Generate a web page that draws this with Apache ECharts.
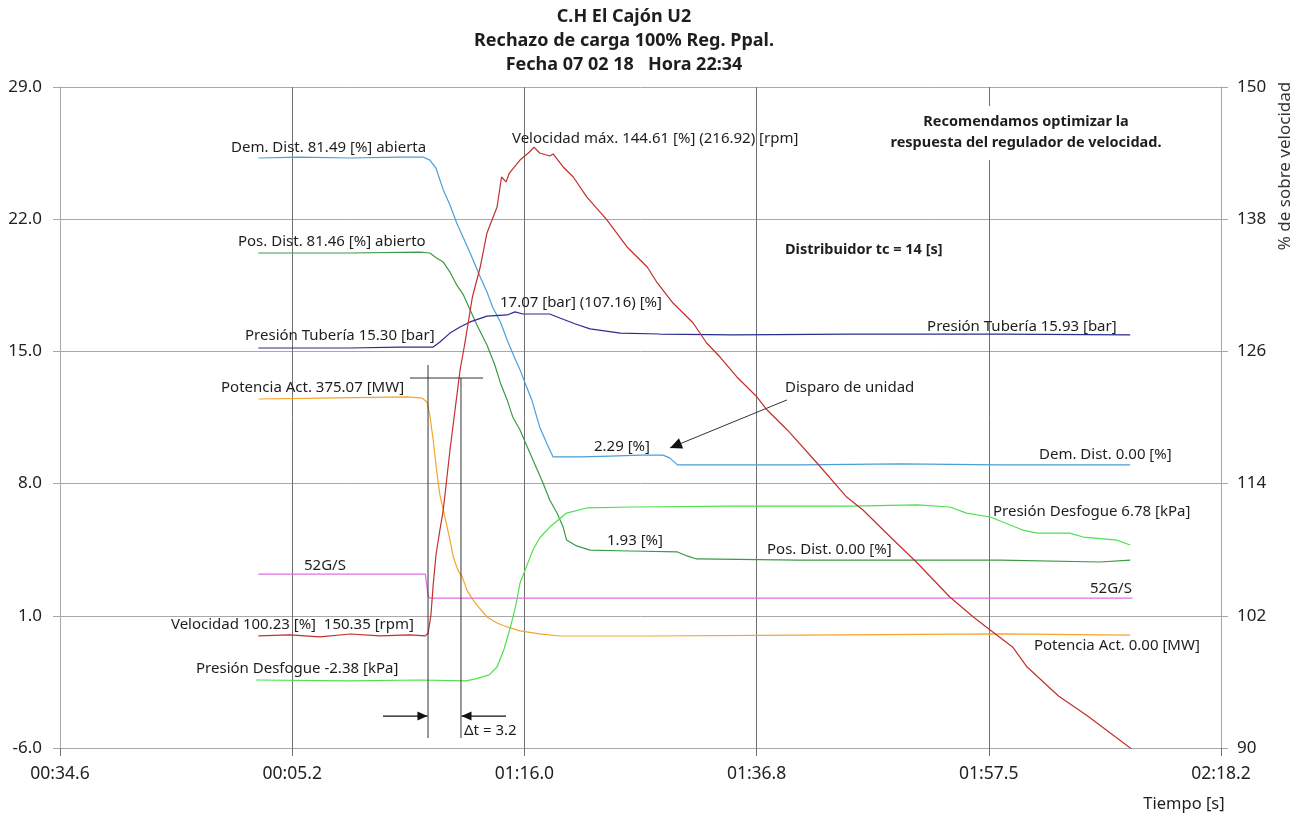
<!DOCTYPE html>
<html><head><meta charset="utf-8">
<script src="https://cdn.jsdelivr.net/npm/echarts@6/dist/echarts.min.js"></script>
<style>html,body{margin:0;padding:0;background:#fff}#c{width:1299px;height:816px}</style>
</head><body><div id="c"></div>
<script>
// ---------------- DATA ----------------
// time t in seconds counted from the first tick (00:34.6); one grid division = 20.72 s
const xTickLabels = ["00:34.6", "00:05.2", "01:16.0", "01:36.8", "01:57.5", "02:18.2"];
const titleLines = ["C.H El Cajón U2", "Rechazo de carga 100% Reg. Ppal.", "Fecha 07 02 18   Hora 22:34"];

const demDist = [[17.7,25.24],[21.4,25.29],[25.9,25.24],[30.3,25.29],[32.4,25.29],[33.0,25.13],[33.55,24.70],[34.2,23.55],[34.8,22.75],[35.4,21.80],[36.0,21.00],[36.6,20.21],[37.5,18.94],[38.1,18.15],[38.6,17.35],[39.3,16.56],[39.9,15.60],[40.5,14.76],[41.05,14.02],[41.5,13.33],[42.1,12.43],[42.8,11.00],[43.5,10.04],[44.0,9.41],[46.4,9.41],[49.1,9.46],[51.8,9.51],[53.8,9.51],[54.4,9.36],[55.1,8.99],[57.1,8.99],[66.0,8.99],[75.0,9.04],[83.9,8.99],[95.5,8.99]];

const posDist = [[17.7,20.21],[25.9,20.21],[32.1,20.26],[33.0,20.21],[33.6,19.95],[34.2,19.73],[34.8,19.20],[35.4,18.52],[36.0,17.99],[36.6,17.19],[37.2,16.40],[38.1,15.34],[38.8,14.28],[39.3,13.33],[39.9,12.43],[40.4,11.53],[41.05,10.84],[41.7,9.94],[42.4,8.99],[43.1,8.03],[43.7,7.13],[44.35,6.44],[44.9,5.70],[45.2,5.01],[46.1,4.70],[47.3,4.48],[50.9,4.43],[55.1,4.38],[55.95,4.17],[56.8,4.01],[66.0,3.95],[75.0,3.95],[83.9,3.95],[92.8,3.85],[95.5,3.95]];

const presTuberia = [[17.7,15.18],[25.9,15.18],[30.3,15.23],[33.3,15.23],[33.9,15.50],[34.8,15.97],[35.7,16.29],[36.6,16.56],[38.1,16.87],[39.9,16.93],[40.6,17.09],[41.3,16.98],[43.7,16.98],[44.6,16.77],[46.0,16.45],[47.3,16.19],[50.0,15.97],[53.5,15.92],[60.05,15.87],[70.5,15.92],[83.9,15.92],[95.5,15.87]];

const potencia = [[17.7,12.48],[23.2,12.53],[31.0,12.59],[32.3,12.53],[32.75,12.32],[33.0,11.63],[33.3,10.31],[33.6,8.72],[33.9,7.40],[34.2,6.60],[34.5,5.81],[34.8,5.01],[35.1,4.11],[35.5,3.42],[35.9,3.05],[36.3,2.37],[36.85,1.84],[37.5,1.36],[38.1,0.94],[39.0,0.62],[39.9,0.41],[41.05,0.20],[42.8,0.04],[44.6,-0.07],[52.65,-0.07],[66.0,-0.02],[83.9,0.04],[95.5,-0.02]];

const g52 = [[17.7,3.21],[32.6,3.21],[32.85,2.05],[33.0,1.94],[95.7,1.94]];

// right axis (% de sobre velocidad)
const velocidad = [[17.7,100.17],[20.5,100.26],[23.2,100.08],[25.9,100.35],[28.55,100.17],[31.2,100.26],[32.6,100.17],[32.85,100.44],[33.1,102.07],[33.3,104.80],[33.55,107.52],[33.9,109.79],[34.2,111.60],[34.4,113.42],[34.8,117.05],[35.25,120.68],[35.7,124.31],[36.1,126.58],[36.8,130.94],[37.5,133.66],[38.1,136.75],[39.0,139.11],[39.4,141.83],[39.8,141.38],[40.1,142.19],[41.05,143.37],[41.9,144.10],[42.3,144.55],[42.8,144.01],[43.7,143.74],[44.0,143.92],[44.9,142.74],[45.8,141.83],[47.0,140.02],[48.8,137.93],[50.6,135.48],[52.4,133.66],[53.3,132.21],[54.7,130.39],[56.5,128.58],[57.7,126.76],[58.9,125.49],[60.4,123.68],[62.2,121.86],[63.1,120.68],[64.9,118.87],[67.55,115.87],[70.2,112.78],[71.65,111.60],[74.1,109.15],[76.5,106.79],[79.4,103.71],[81.5,101.89],[83.0,100.71],[85.0,99.17],[86.3,97.35],[89.1,94.72],[91.7,92.90],[95.7,89.85]];

const presDesfogue = [[17.5,-2.40],[25.9,-2.45],[32.1,-2.40],[36.2,-2.45],[37.0,-2.35],[38.3,-2.13],[39.0,-1.71],[39.6,-0.81],[40.2,0.41],[40.7,1.62],[41.05,2.74],[41.5,3.42],[42.2,4.48],[42.8,5.12],[43.7,5.70],[45.2,6.44],[47.0,6.71],[51.1,6.76],[60.05,6.81],[70.5,6.81],[76.5,6.87],[79.4,6.76],[80.9,6.44],[83.0,6.23],[85.9,5.54],[87.2,5.38],[90.1,5.38],[91.3,5.17],[94.3,5.01],[95.5,4.75]];

// annotation texts anchored in data units (t, left-axis value)
const notes = [
  {text:"Dem. Dist. 81.49 [%] abierta", t:15.26, v:25.77},
  {text:"Pos. Dist. 81.46 [%] abierto", t:15.88, v:20.79},
  {text:"Presión Tubería 15.30 [bar]", t:16.51, v:15.82},
  {text:"Velocidad máx. 144.61 [%] (216.92) [rpm]", t:40.33, v:26.25},
  {text:"17.07 [bar] (107.16) [%]", t:39.26, v:17.56},
  {text:"Presión Tubería 15.93 [bar]", t:77.37, v:16.29},
  {text:"Potencia Act. 375.07 [MW]", t:14.37, v:13.06},
  {text:"52G/S", t:21.77, v:3.64},
  {text:"Velocidad 100.23 [%]  150.35 [rpm]", t:9.90, v:0.51},
  {text:"Presión Desfogue -2.38 [kPa]", t:12.14, v:-1.82},
  {text:"Disparo de unidad", t:64.69, v:13.06},
  {text:"2.29 [%]", t:47.65, v:9.94},
  {text:"1.93 [%]", t:48.81, v:4.96},
  {text:"Pos. Dist. 0.00 [%]", t:63.09, v:4.48},
  {text:"Dem. Dist. 0.00 [%]", t:87.36, v:9.51},
  {text:"Presión Desfogue 6.78 [kPa]", t:83.25, v:6.50},
  {text:"52G/S", t:91.91, v:2.42},
  {text:"Potencia Act. 0.00 [MW]", t:86.91, v:-0.60},
  {text:"Δt = 3.2", t:36.05, v:-5.10},
  {text:"Distribuidor tc = 14 [s]", t:64.69, v:20.37, bold:true}
];
const recomendacion = {lines:["Recomendamos optimizar la","respuesta del regulador de velocidad."], t:86.2, v1:27.15, v2:26.04};
const deltaT = {t1:32.84, t2:35.78, vTop1:14.28, vTop2:13.59, vBottom:-5.47, hLeft:31.23, hRight:37.75, arrowV:-4.31, arrowL:28.82, arrowR:39.80};
const disparoArrow = {from:[64.87,12.43], to:[54.43,9.89]};

// ---------------- CHART ----------------
const FONT = '"Noto Sans", "DejaVu Sans", sans-serif';
const TXT = '#1e1e1e';
const chart = echarts.init(document.getElementById('c'), null, {renderer:'canvas'});

function lineSeries(name, data, color, yIdx){
  return {name, type:'line', data, yAxisIndex:yIdx||0, showSymbol:false, symbol:'none',
    lineStyle:{color, width:1.2}, itemStyle:{color}, animation:false, z:3};
}

chart.setOption({
  animation:false,
  backgroundColor:'#fff',
  grid:{left:60, right:78, top:87, bottom:68},
  xAxis:{type:'value', min:0, max:103.6, interval:20.72,
    axisLine:{show:true, onZero:false, lineStyle:{color:'#a8a8a8'}},
    axisTick:{show:true, length:8, lineStyle:{color:'#707070'}},
    axisLabel:{margin:17, color:'#222', fontFamily:FONT, fontSize:17.5,
      formatter:v=>xTickLabels[Math.round(v/20.72)] || ''},
    splitLine:{show:true, lineStyle:{color:'#707070', width:1}}},
  yAxis:[
    {type:'value', min:-6, max:29, interval:7, position:'left',
      axisLine:{show:true, lineStyle:{color:'#a8a8a8'}},
      axisTick:{show:true, length:7, lineStyle:{color:'#a8a8a8'}},
      axisLabel:{margin:18, color:'#222', fontFamily:FONT, fontSize:17, formatter:v=>v.toFixed(1)},
      splitLine:{show:true, lineStyle:{color:'#a8a8a8', width:1}}},
    {type:'value', min:90, max:150, interval:12, position:'right',
      axisLine:{show:true, lineStyle:{color:'#a8a8a8'}},
      axisTick:{show:true, length:7, lineStyle:{color:'#a8a8a8'}},
      axisLabel:{margin:16, color:'#222', fontFamily:FONT, fontSize:17},
      splitLine:{show:false}}
  ],
  series:[
    lineSeries('Dem. Dist.', demDist, '#4a9fd8'),
    lineSeries('Pos. Dist.', posDist, '#3b9a45'),
    lineSeries('Presión Tubería', presTuberia, '#2c2c8e'),
    lineSeries('Potencia Act.', potencia, '#f5a52a'),
    lineSeries('52G/S', g52, '#e46ee4'),
    lineSeries('Presión Desfogue', presDesfogue, '#4fe04f'),
    lineSeries('Velocidad', velocidad, '#c22f2c', 1)
  ]
});

function px(t, v){ return chart.convertToPixel({xAxisIndex:0, yAxisIndex:0}, [t, v]); }
function txt(text, x, y, size, bold, align, extra){
  return {type:'text', z:100, style:Object.assign({text, x, y,
    font:(bold?'bold ':'')+size+'px '+FONT, fill:TXT,
    textAlign:align||'left', align:align||'left', textVerticalAlign:'middle', verticalAlign:'middle'}, extra||{})};
}
function seg(a, b, color, w){
  return {type:'line', z:100, shape:{x1:a[0], y1:a[1], x2:b[0], y2:b[1]}, style:{stroke:color||'#222', lineWidth:w||1}};
}
function head(from, tip, len, half){
  const dx = tip[0]-from[0], dy = tip[1]-from[1], L = Math.hypot(dx,dy);
  const ux = dx/L, uy = dy/L, nx = -uy, ny = ux;
  const bx = tip[0]-ux*len, by = tip[1]-uy*len;
  return {type:'polygon', z:101, shape:{points:[[tip[0],tip[1]],[bx+nx*half,by+ny*half],[bx-nx*half,by-ny*half]]}, style:{fill:'#111'}};
}

const g = [];
// title
const titleY = [17, 41, 65];
titleLines.forEach((s,i)=>g.push(txt(s, 624, titleY[i], 18, true, 'center')));
// notes
notes.forEach(n=>{ const p = px(n.t, n.v); g.push(txt(n.text, p[0], p[1], n.bold?14.5:15, !!n.bold, 'left')); });
// recommendation (white background breaks grid line)
const r1 = px(recomendacion.t, recomendacion.v1), r2 = px(recomendacion.t, recomendacion.v2);
g.push({type:'rect', z:99, shape:{x:r2[0]-140, y:r1[1]-16, width:280, height:r2[1]-r1[1]+33}, style:{fill:'#fff'}});
g.push(txt(recomendacion.lines[0], r1[0], r1[1], 14.5, true, 'center'));
g.push(txt(recomendacion.lines[1], r2[0], r2[1], 14.5, true, 'center'));
// delta t construction
g.push(seg(px(deltaT.t1, deltaT.vTop1), px(deltaT.t1, deltaT.vBottom), '#333'));
g.push(seg(px(deltaT.t2, deltaT.vTop2), px(deltaT.t2, deltaT.vBottom), '#333'));
g.push(seg(px(deltaT.hLeft, deltaT.vTop2), px(deltaT.hRight, deltaT.vTop2), '#333'));
const aL0 = px(deltaT.arrowL, deltaT.arrowV), aL1 = px(deltaT.t1-0.05, deltaT.arrowV);
const aR0 = px(deltaT.arrowR, deltaT.arrowV), aR1 = px(deltaT.t2+0.05, deltaT.arrowV);
g.push(seg(aL0, aL1, '#111', 1.2)); g.push(head(aL0, aL1, 10, 4.5));
g.push(seg(aR0, aR1, '#111', 1.2)); g.push(head(aR0, aR1, 10, 4.5));
// disparo arrow
const d0 = px(disparoArrow.from[0], disparoArrow.from[1]), d1 = px(disparoArrow.to[0], disparoArrow.to[1]);
g.push(seg(d0, d1, '#333', 1)); g.push(head(d0, d1, 12, 5.5));
// axis names
g.push(txt('Tiempo [s]', 1184, 804, 16.5, false, 'center'));
g.push({type:'text', z:100, x:1285, y:166, rotation:Math.PI/2,
  style:{text:'% de sobre velocidad', x:0, y:0, font:'17px '+FONT, fill:'#333',
    textAlign:'center', align:'center', textVerticalAlign:'middle', verticalAlign:'middle'}});

chart.setOption({graphic:{elements:g}});
</script>
</body></html>
